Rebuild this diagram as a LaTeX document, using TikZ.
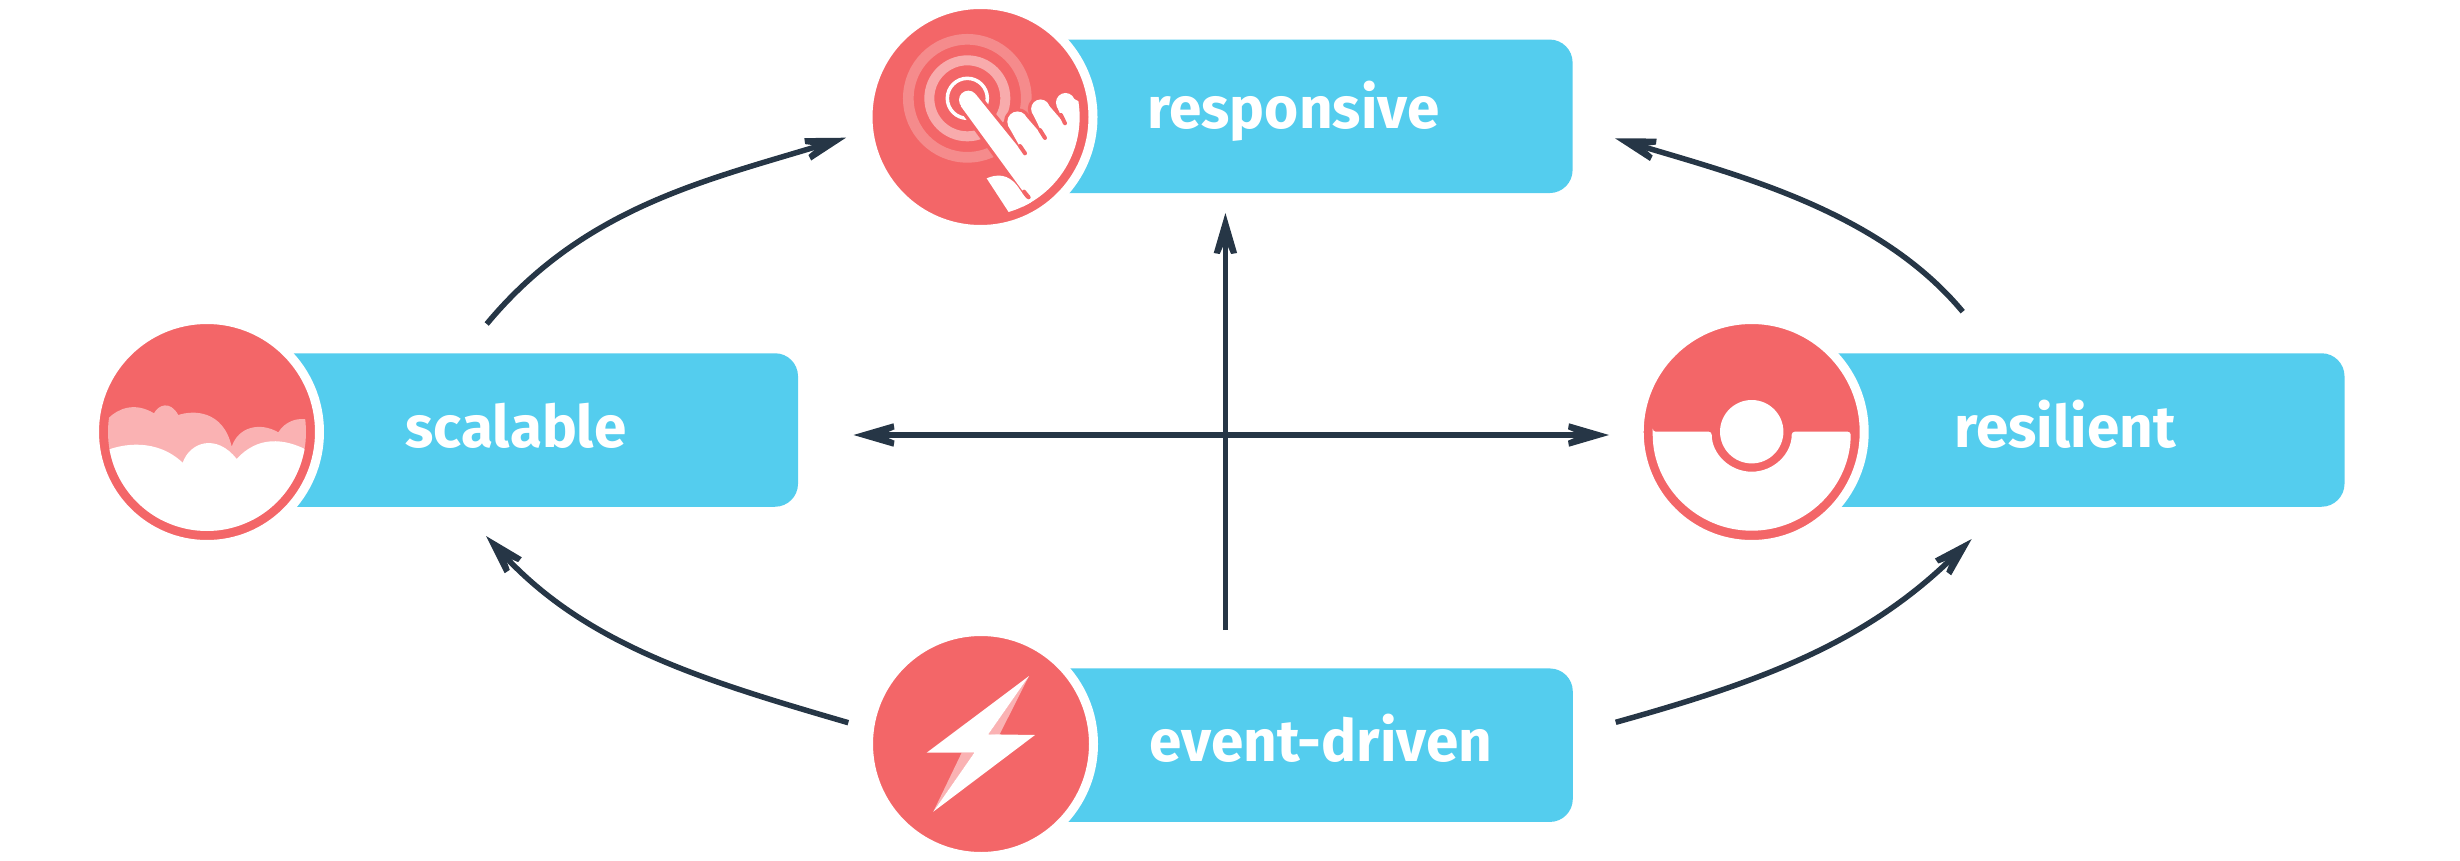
\documentclass[tikz,border=0pt]{standalone}
\usepackage{fontspec}
\setmainfont{Fira Sans}
\usetikzlibrary{arrows.meta}
\definecolor{skyblue}{HTML}{54CDEE}
\definecolor{coral}{HTML}{F36668}
\definecolor{blush}{HTML}{FAB2B3}
\definecolor{ringone}{HTML}{F58B8C}
\definecolor{ringtwo}{HTML}{F8ABAC}
\definecolor{slate}{HTML}{263646}
\pgfdeclarearrow{
  name=Barbed,
  setup code={
    \pgfarrowssettipend{0pt}
    \pgfarrowssetbackend{-41pt}
    \pgfarrowssetvisualbackend{-28pt}
    \pgfarrowssetlineend{-27pt}
  },
  drawing code={
    \pgfpathmoveto{\pgfqpoint{0pt}{0pt}}
    \pgfpathlineto{\pgfqpoint{-40pt}{11.7pt}}
    \pgfpathlineto{\pgfqpoint{-41pt}{5.7pt}}
    \pgfpathlineto{\pgfqpoint{-28pt}{0pt}}
    \pgfpathlineto{\pgfqpoint{-41pt}{-5.7pt}}
    \pgfpathlineto{\pgfqpoint{-40pt}{-11.7pt}}
    \pgfpathclose
    \pgfusepathqfill
  }
}
\newcommand{\handbody}{(562,592) -- (362,318) -- (408,284) -- (552,462) -- (505,378) -- (560,352) -- (614,414) -- (575,335)
  -- (628,318) -- (674,371) -- (650,318) -- (703,297) -- (800,350) -- (800,500) -- (650,660) -- (540,640) -- cycle}
\newcommand{\handtips}{(385,300) circle (28) (532.5,365) circle (30.5) (601.5,326.5) circle (28) (676.5,307.5) circle (28.5)}
\tikzset{
  labelbox/.style={rectangle,fill=skyblue,rounded corners=23pt,minimum height=153.5pt,inner sep=0pt,outer sep=0pt},
  badge/.style={circle,fill=coral,draw=white,line width=9pt,minimum size=225pt,inner sep=0pt,outer sep=0pt},
  caption/.style={anchor=base,text=white,font=\bfseries\fontsize{58.5}{58.5}\selectfont},
  flow/.style={draw=slate,line width=5.5pt,-{Barbed}}
}
\begin{document}
\begin{tikzpicture}[x=1pt,y=-1pt]
  \useasboundingbox (0,0) rectangle (2460,861);

  \node[labelbox,minimum width=592pt] (responsiveBox) at (1276.6,116.3) {};
  \node[badge] (responsiveBadge) at (980.5,117) {};
  \node[caption] (responsiveText) at (1293.5,129) {responsive};

  \node[labelbox,minimum width=591pt] (scalableBox) at (502.5,430) {};
  \node[badge] (scalableBadge) at (207,432) {};
  \node[caption] (scalableText) at (516,447) {scalable};

  \node[labelbox,minimum width=593pt] (resilientBox) at (2048,430) {};
  \node[badge] (resilientBadge) at (1751.7,432) {};
  \node[caption] (resilientText) at (2065,447) {resilient};

  \node[labelbox,minimum width=592pt] (eventBox) at (1276.8,745.2) {};
  \node[badge] (eventBadge) at (981,744) {};
  \node[caption] (eventText) at (1321,761) {event-driven};

  % hand
  \begin{scope}[shift={(840,0)},x=0.3333pt,y=-0.3333pt]
    \draw[ringone,line width=10.7pt] (382,295) circle (177);
    \draw[ringtwo,line width=10pt] (382,295) circle (114);
    \draw[white,line width=3.5pt] (382,295) circle (60);
    \begin{scope}
      \clip (422,351) circle (297);
      \filldraw[coral,line width=6.7pt,line join=round] \handbody \handtips;
      \fill[white] \handbody;
      \fill[white] \handtips;
      \fill[white] (440,535) .. controls (475,520) and (505,525) .. (530,555) -- (556,592)
        -- (575,610) -- (600,650) -- (515,650) -- cycle;
      \foreach \xa/\ya/\xb/\yb in {552/575/566/592,540/438/555/460,600/390/615/414,663/345/675/370}
        \draw[coral,line width=4pt,line cap=round] (\xa,\ya) -- (\xb,\yb);
    \end{scope}
  \end{scope}

  % clouds
  \begin{scope}
    \clip (207,432) circle (99);
    \fill[blush] (100,424) -- (108.3,418.3) .. controls (118.3,408.3) and (135,401.7) .. (154,413.3)
      .. controls (158.3,405) and (170,400) .. (178.3,415)
      .. controls (193.3,410) and (223.3,410) .. (231.7,446.7)
      .. controls (238.3,426.7) and (260,421.7) .. (278.3,432.3)
      .. controls (285,421.7) and (296.7,416.7) .. (310,420) -- (310,520) -- (100,520) -- cycle;
    \fill[white] (105,451) .. controls (123.3,443.3) and (156.7,438.3) .. (182.7,462.7)
      .. controls (190,441.7) and (216.7,433.3) .. (236.7,459)
      .. controls (256.7,436.7) and (283.3,436.7) .. (310,451.7) -- (310,540) -- (100,540) -- cycle;
  \end{scope}

  % ball
  \fill[white,rounded corners=3pt] (1652.7,431.7) -- (1711.7,431.7) arc (180:0:40) -- (1850.7,431.7) arc (0:180:99) -- cycle;
  \fill[white] (1751.7,431.7) circle (31.7);

  % bolt
  \fill[blush] (1029,676) -- (999.3,735) -- (988.3,734.3) -- cycle;
  \fill[blush] (961.7,752.7) -- (974.3,752.7) -- (933.3,811.7) -- cycle;
  \fill[white] (1029,676) -- (988.3,734.3) -- (1035,735) -- (933.3,811.7) -- (974.3,752.7) -- (926.7,752.7) -- cycle;

  \coordinate (axisBottom) at (1225.4,630);
  \coordinate (axisTop) at (1225.4,213);
  \coordinate (axisLeft) at (853.5,435);
  \coordinate (axisRight) at (1609,435);
  \draw[flow] (axisBottom) -- (axisTop);
  \draw[flow,{Barbed}-{Barbed}] (axisLeft) -- (axisRight);

  \coordinate (scaleOut) at (486.7,324);
  \coordinate (respIn) at (846,137.7);
  \coordinate (resiOut) at (1962.7,311.7);
  \coordinate (respInRight) at (1615,138.3);
  \coordinate (eventOutLeft) at (848.3,722.7);
  \coordinate (scaleIn) at (486,536);
  \coordinate (eventOutRight) at (1615.7,722.3);
  \coordinate (resiIn) at (1971.7,539);
  \draw[flow] (scaleOut) .. controls (582.7,208.5) and (702.6,181.2) .. (respIn);
  \draw[flow] (resiOut) .. controls (1879.5,211.6) and (1739.5,175.6) .. (respInRight);
  \draw[flow] (eventOutLeft) .. controls (704.3,680.7) and (588,645.5) .. (scaleIn);
  \draw[flow] (eventOutRight) .. controls (1760,682) and (1863.7,644) .. (resiIn);
\end{tikzpicture}
\end{document}
